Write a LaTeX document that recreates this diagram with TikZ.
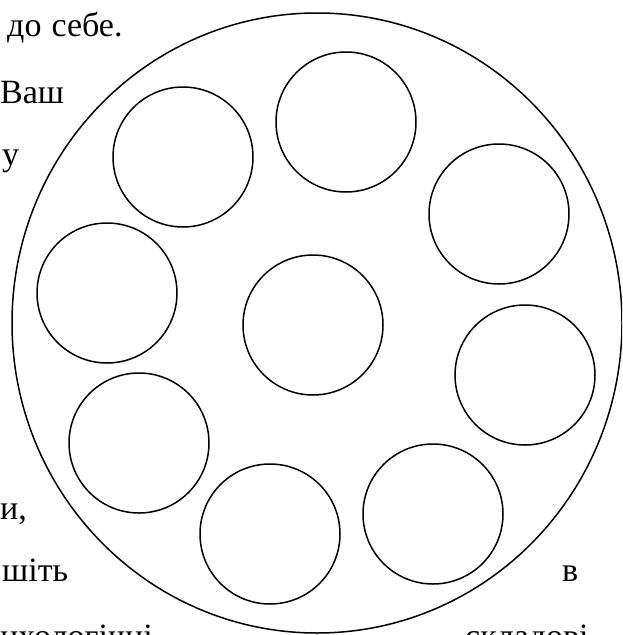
\documentclass[tikz,border=0pt]{standalone}
\usepackage{fontspec}
\setmainfont{Liberation Serif}
\usetikzlibrary{shapes.geometric}
\begin{document}
\begin{tikzpicture}[x=1pt,y=-1pt,
  ring/.style={circle,draw=black,line width=1.5pt,minimum size=140pt,inner sep=0pt},
  txt/.style={anchor=base west,inner sep=0pt,font=\fontsize{34}{40}\selectfont}]
\useasboundingbox (0,0) rectangle (622,635);
\clip (0,0) rectangle (622,635);
\node[ellipse,draw=black,line width=1.5pt,minimum width=610pt,minimum height=620pt,inner sep=0pt] (big) at (317,323) {};
\node[ring] (c1) at (183,157) {};
\node[ring] (c2) at (346,122) {};
\node[ring] (c3) at (499,214) {};
\node[ring] (c4) at (313,325) {};
\node[ring] (c5) at (525,375) {};
\node[ring] (c6) at (107,293) {};
\node[ring] (c7) at (139,443) {};
\node[ring] (c8) at (270,534) {};
\node[ring] (c9) at (433,514) {};
\node[txt] (t1) at (7,36) {до\hspace{10pt}себе.};
\node[txt] (t2) at (0,103) {Ваш};
\node[txt] (t3) at (2,165) {у};
\node[txt] (t4) at (0,519) {и,};
\node[txt] (t5) at (2,581) {шіть};
\node[txt] (t6) at (562,581) {в};
\node[txt] (t7) at (0,647) {ихологічні};
\node[txt] (t8) at (465,647) {складові};
\end{tikzpicture}
\end{document}
